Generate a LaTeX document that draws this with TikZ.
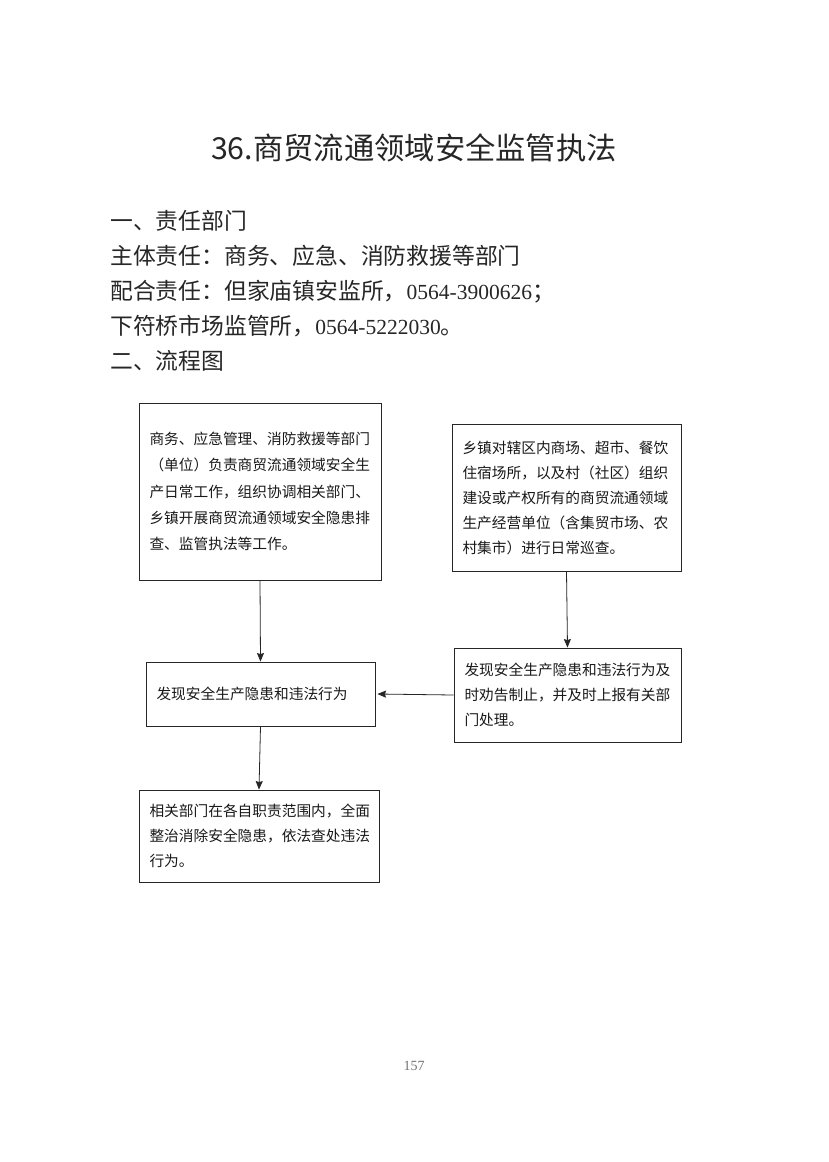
\documentclass[tikz,border=0pt]{standalone}
\usepackage{fontspec}
\setmainfont{Noto Sans CJK SC}
\newfontfamily\cjk{Noto Sans CJK SC}
\newfontfamily\tnr{Liberation Serif}
\usetikzlibrary{arrows.meta}
\begin{document}
\begin{tikzpicture}[x=1pt,y=-1pt,
  head/.style={anchor=base west,inner sep=0pt,font=\cjk\fontsize{22.8}{26}\selectfont,text=black!85},
  flowbox/.style={draw=black!85,line width=0.9pt,inner xsep=10.5pt,inner ysep=0pt,align=left,
     font=\cjk\fontsize{14.7}{25}\selectfont,text=black!90},
  conn/.style={draw=black!85,line width=0.8pt,-{Stealth[length=8.5pt,width=7pt,inset=1pt]}}]
\useasboundingbox (0,0) rectangle (828,1162);
\fill[white] (0,0) rectangle (828,1162);
% title
\node[anchor=base,inner sep=0pt,font=\cjk\fontsize{30.3}{34}\selectfont,text=black!85] (title) at (414,159) {36.商贸流通领域安全监管执法};
% header lines
\node[head] (h1) at (110,229) {一、责任部门};
\node[head] (h2) at (110,264) {主体责任：商务、应急、消防救援等部门};
\node[head] (h3) at (110,299) {配合责任：但家庙镇安监所，{\tnr\fontsize{21.5}{24}\selectfont 0564-3900626}；};
\node[head] (h4) at (110,334) {下符桥市场监管所，{\tnr\fontsize{21.5}{24}\selectfont 0564-5222030}。};
\node[head] (h5) at (110,369) {二、流程图};
% boxes
\node[flowbox,text width=221pt,minimum height=177pt,font=\cjk\fontsize{14.7}{26.2}\selectfont] (b1) at (260,491.5)
  {商务、应急管理、消防救援等部门\\（单位）负责商贸流通领域安全生\\产日常工作，组织协调相关部门、\\乡镇开展商贸流通领域安全隐患排\\查、监管执法等工作。};
\node[flowbox,text width=208pt,minimum height=147pt] (b2) at (566.5,497.5)
  {乡镇对辖区内商场、超市、餐饮\\住宿场所，以及村（社区）组织\\建设或产权所有的商贸流通领域\\生产经营单位（含集贸市场、农\\村集市）进行日常巡查。};
\node[flowbox,text width=208pt,minimum height=64pt] (b3) at (260.5,694)
  {发现安全生产隐患和违法行为};
\node[flowbox,text width=206pt,minimum height=94pt] (b4) at (567.5,695)
  {发现安全生产隐患和违法行为及\\时劝告制止，并及时上报有关部\\门处理。};
\node[flowbox,text width=219pt,minimum height=92pt] (b5) at (259,836)
  {相关部门在各自职责范围内，全面\\整治消除安全隐患，依法查处违法\\行为。};
% connectors
\draw[conn] (b1.south) -- (b3.north);
\draw[conn] (b2.south) -- (b4.north);
\draw[conn] (b4.west) -- ([xshift=2pt]b3.east);
\draw[conn] (b3.south) -- (b5.north);
% page number
\node[anchor=base,inner sep=0pt,font=\tnr\fontsize{14}{16}\selectfont,text=black!55] (pg) at (414,1070) {157};
\end{tikzpicture}
\end{document}
